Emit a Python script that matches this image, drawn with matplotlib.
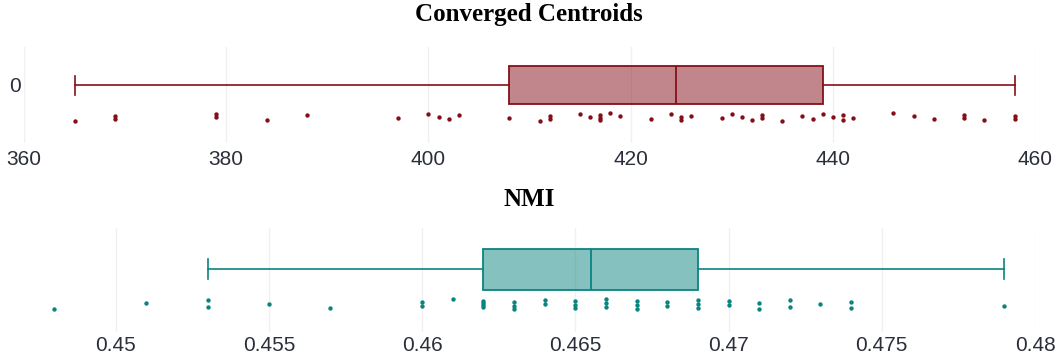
import numpy as np
import matplotlib
matplotlib.use('Agg')
import matplotlib.pyplot as plt
from matplotlib.colors import to_rgba
from matplotlib.ticker import FuncFormatter, MultipleLocator

# values, one entry per run
centroids = [365, 369, 369, 379, 379, 384, 388, 397, 400, 401, 402, 403, 408,
             411, 412, 412, 415, 416, 417, 417, 417, 418, 419, 422, 424,
             425, 425, 426, 429, 430, 431, 432, 433, 433, 435, 437, 438, 439,
             440, 441, 441, 442, 446, 448, 450, 453, 453, 455, 458, 458]
nmi = [0.448, 0.451, 0.453, 0.453, 0.455, 0.457, 0.460, 0.460, 0.461,
       0.462, 0.462, 0.462, 0.462, 0.463, 0.463, 0.463, 0.464, 0.464,
       0.465, 0.465, 0.465,
       0.466, 0.466, 0.466, 0.467, 0.467, 0.467, 0.468, 0.468,
       0.469, 0.469, 0.469, 0.470, 0.470, 0.471, 0.471, 0.472, 0.472,
       0.473, 0.474, 0.474, 0.479]
titles = ['Converged Centroids', 'NMI']
colors = ['#850f18', '#0a8480']

W, H = 1058, 358
tick_color = '#2a2f3a'
plt.rcParams['font.family'] = ['Liberation Sans', 'DejaVu Sans']


def box_stats(vals):
    """ quartiles like plotly's default 'linear' method (hazen) """
    v = np.sort(np.asarray(vals, float))
    q1, med, q3 = np.percentile(v, [25, 50, 75], method='hazen')
    iqr = q3 - q1
    return dict(med=med, q1=q1, q3=q3, fliers=[],
                whislo=v[v >= q1 - 1.5 * iqr].min(),
                whishi=v[v <= q3 + 1.5 * iqr].max())


def jitter(n, spread):
    # low-discrepancy offsets so repeated values don't sit on top of each other
    return ((np.arange(n) * 0.618034) % 1 - 0.5) * spread


def draw_panel(ax, vals, color, bw, spread):
    st = box_stats(vals)
    ax.bxp([st], positions=[0], orientation='horizontal', widths=bw, capwidths=bw / 2,
           showfliers=False, patch_artist=True,
           boxprops=dict(facecolor=to_rgba(color, 0.5), edgecolor=color, linewidth=1.3),
           medianprops=dict(color=color, linewidth=1.3),
           whiskerprops=dict(color=color, linewidth=1.2),
           capprops=dict(color=color, linewidth=1.2))
    v = np.sort(np.asarray(vals, float))
    ax.scatter(v, -1 + jitter(len(v), spread), s=10, color=color, linewidths=0, zorder=3)
    for s in ax.spines.values():
        s.set_visible(False)
    ax.grid(axis='x', color='#f0f0f0', linewidth=1)
    ax.set_axisbelow(True)
    ax.tick_params(axis='both', length=0, labelsize=15, colors=tick_color, pad=5)


fig = plt.figure(figsize=(W / 100, H / 100), dpi=100)
x0, x1 = 24 / W, 1035 / W

# top panel: pixel rows 47..143, box centre at 85, points at 117
ax1 = fig.add_axes([x0, 1 - 143 / H, x1 - x0, 96 / H])
draw_panel(ax1, centroids, colors[0], bw=38 / 32, spread=0.24)
ax1.set_xlim(360, 460)
ax1.set_ylim(-58 / 32, 38 / 32)
ax1.xaxis.set_major_locator(MultipleLocator(20))
ax1.set_yticks([0])
ax1.set_yticklabels(['0'])
ax1.tick_params(axis='y', pad=2)

# bottom panel: pixel rows 228..332, box centre at 269, points at 304
ax2 = fig.add_axes([x0, 1 - 332 / H, x1 - x0, 104 / H])
draw_panel(ax2, nmi, colors[1], bw=41 / 35, spread=0.3)
ax2.set_xlim(0.44701, 0.48)
ax2.set_ylim(-63 / 35, 41 / 35)
ax2.xaxis.set_major_locator(MultipleLocator(0.005))
ax2.xaxis.set_major_formatter(FuncFormatter(lambda v, p: f'{v:g}'))
ax2.tick_params(axis='x', pad=3)
ax2.set_yticks([])

for title, yc in zip(titles, [15, 199]):
    fig.text(0.5, 1 - yc / H, title, ha='center', va='center', fontsize=18,
             fontweight='bold', family=['Liberation Serif', 'DejaVu Serif'])

fig.savefig('out.png', dpi=100)
